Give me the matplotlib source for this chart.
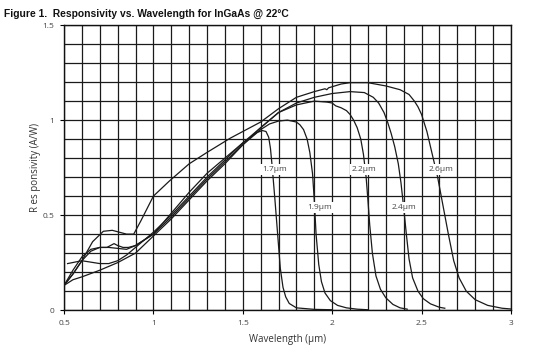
import matplotlib
matplotlib.use("Agg")
import matplotlib.pyplot as plt
import numpy as np

# ---- data ----
wl_17 = [0.5, 0.55, 0.6, 0.65, 0.7, 0.75, 0.8, 0.85, 0.9, 0.95, 1.0, 1.1, 1.2, 1.3, 1.4, 1.5, 1.55, 1.58, 1.61, 1.63,
         1.645, 1.655, 1.665, 1.68, 1.695, 1.71, 1.725, 1.74, 1.76, 1.8, 1.9, 2.0]
r_17 = [0.13, 0.21, 0.28, 0.32, 0.33, 0.33, 0.325, 0.32, 0.34, 0.37, 0.40, 0.51, 0.62, 0.72, 0.80, 0.88, 0.915, 0.935, 0.945, 0.94,
        0.91, 0.85, 0.75, 0.58, 0.40, 0.22, 0.12, 0.07, 0.035, 0.012, 0.004, 0.002]

wl_19 = [0.5, 0.55, 0.6, 0.65, 0.7, 0.74, 0.78, 0.8, 0.83, 0.86, 0.9, 0.95, 1.0, 1.1, 1.2, 1.3, 1.4, 1.5, 1.6, 1.65, 1.7,
         1.75, 1.8, 1.82, 1.84, 1.86, 1.875, 1.89, 1.9, 1.91, 1.925, 1.94, 1.96, 1.99, 2.03, 2.08, 2.14, 2.2]
r_19 = [0.13, 0.19, 0.26, 0.31, 0.33, 0.33, 0.35, 0.34, 0.33, 0.33, 0.34, 0.37, 0.40, 0.49, 0.59, 0.69, 0.78, 0.87, 0.95, 0.98, 0.995,
        1.0, 0.99, 0.975, 0.95, 0.90, 0.83, 0.72, 0.58, 0.40, 0.24, 0.15, 0.09, 0.05, 0.025, 0.012, 0.005, 0.002]

wl_22 = [0.5, 0.55, 0.6, 0.7, 0.8, 0.9, 1.0, 1.1, 1.2, 1.3, 1.4, 1.5, 1.6, 1.7, 1.8, 1.9, 1.97, 2.0, 2.02, 2.05, 2.08, 2.1,
         2.12, 2.14, 2.16, 2.175, 2.19, 2.2, 2.21, 2.225, 2.245, 2.27, 2.3, 2.34, 2.38, 2.42]
r_22 = [0.13, 0.16, 0.175, 0.21, 0.25, 0.30, 0.39, 0.48, 0.58, 0.68, 0.77, 0.87, 0.96, 1.04, 1.08, 1.10, 1.095, 1.09, 1.075, 1.065, 1.05, 1.03,
        1.00, 0.96, 0.90, 0.82, 0.70, 0.58, 0.45, 0.30, 0.18, 0.11, 0.065, 0.03, 0.012, 0.005]

wl_24 = [0.52, 0.6, 0.7, 0.75, 0.8, 0.85, 0.9, 1.0, 1.1, 1.2, 1.3, 1.4, 1.5, 1.6, 1.7, 1.8, 1.9, 2.0, 2.1, 2.18, 2.23,
         2.26, 2.29, 2.31, 2.33, 2.35, 2.37, 2.385, 2.4, 2.415, 2.43, 2.45, 2.48, 2.51, 2.55, 2.6, 2.63]
r_24 = [0.245, 0.26, 0.245, 0.245, 0.26, 0.29, 0.33, 0.41, 0.50, 0.60, 0.70, 0.79, 0.88, 0.96, 1.04, 1.09, 1.12, 1.14, 1.15, 1.145, 1.12,
        1.09, 1.04, 0.99, 0.93, 0.86, 0.77, 0.67, 0.54, 0.40, 0.27, 0.17, 0.10, 0.06, 0.033, 0.015, 0.01]

wl_26 = [0.5, 0.55, 0.6, 0.66, 0.72, 0.77, 0.85, 0.89, 0.93, 1.0, 1.09, 1.2, 1.3, 1.43, 1.5, 1.6, 1.7, 1.8, 1.9, 1.96,
         1.97, 1.98, 2.05, 2.1, 2.2, 2.3, 2.38, 2.43, 2.46, 2.48, 2.5, 2.53, 2.56, 2.59, 2.62, 2.65, 2.68, 2.71, 2.75,
         2.8, 2.87, 2.95, 3.0]
r_26 = [0.13, 0.19, 0.26, 0.36, 0.415, 0.42, 0.40, 0.40, 0.47, 0.60, 0.68, 0.77, 0.83, 0.905, 0.94, 0.99, 1.06, 1.12, 1.15, 1.165,
        1.16, 1.17, 1.19, 1.197, 1.197, 1.18, 1.16, 1.135, 1.10, 1.07, 1.03, 0.94, 0.82, 0.70, 0.55, 0.40, 0.26, 0.17, 0.10,
        0.055, 0.025, 0.01, 0.006]

labels = ["1.7µm", "1.9µm", "2.2µm", "2.4µm", "2.6µm"]
label_x = [1.68, 1.93, 2.18, 2.40, 2.61]
label_y = [0.74, 0.54, 0.74, 0.54, 0.74]

xticks = [0.5, 1, 1.5, 2, 2.5, 3]
xtick_labels = ["0.5", "1", "1.5", "2", "2.5", "3"]
yticks = [0, 0.5, 1, 1.5]
ytick_labels = ["0", "0.5", "1", "1.5"]

# ---- figure ----
plt.rcParams['font.family'] = ['Open Sans', 'DejaVu Sans']
fig = plt.figure(figsize=(5.59, 3.64), dpi=100)
ax = fig.add_axes([0.1145, 0.148, 0.7995, 0.783])

ax.set_xlim(0.5, 3.0)
ax.set_ylim(0, 1.5)
ax.set_xticks(np.arange(0.5, 3.0001, 0.1), minor=True)
ax.set_yticks(np.arange(0, 1.5001, 0.1), minor=True)
ax.set_xticks(xticks)
ax.set_xticklabels(xtick_labels)
ax.set_yticks(yticks)
ax.set_yticklabels(ytick_labels)
ax.grid(True, which='both', color='#1a1a1a', linewidth=0.9)
ax.tick_params(which='minor', length=0)
ax.tick_params(which='major', length=3, width=0.8, labelsize=6, labelcolor='#444444', pad=4)
for s in ax.spines.values():
    s.set_color('#111111')
    s.set_linewidth(1.0)
ax.set_axisbelow(True)

for wl, r in [(wl_17, r_17), (wl_19, r_19), (wl_22, r_22), (wl_24, r_24), (wl_26, r_26)]:
    ax.plot(wl, r, color='#1a1a1a', linewidth=0.9, zorder=3)

for t, x, y in zip(labels, label_x, label_y):
    ax.text(x, y, t, fontsize=6, color='#444444', ha='center', va='center', zorder=4,
            bbox=dict(boxstyle='square,pad=0.25', facecolor='white', edgecolor='none'))

ax.set_xlabel("Wavelength (µm)", fontsize=7, color='#333333', labelpad=5)
ax.set_ylabel("R es ponsivity (A/W)", fontsize=7, color='#333333', labelpad=1)

fig.text(0.007, 0.962, "Figure 1.  Responsivity vs. Wavelength for InGaAs @ 22°C",
         fontsize=7.4, fontweight='bold', family=['Liberation Sans', 'DejaVu Sans'], color='#111111', va='center', ha='left')

fig.savefig("out.png", dpi=100)
